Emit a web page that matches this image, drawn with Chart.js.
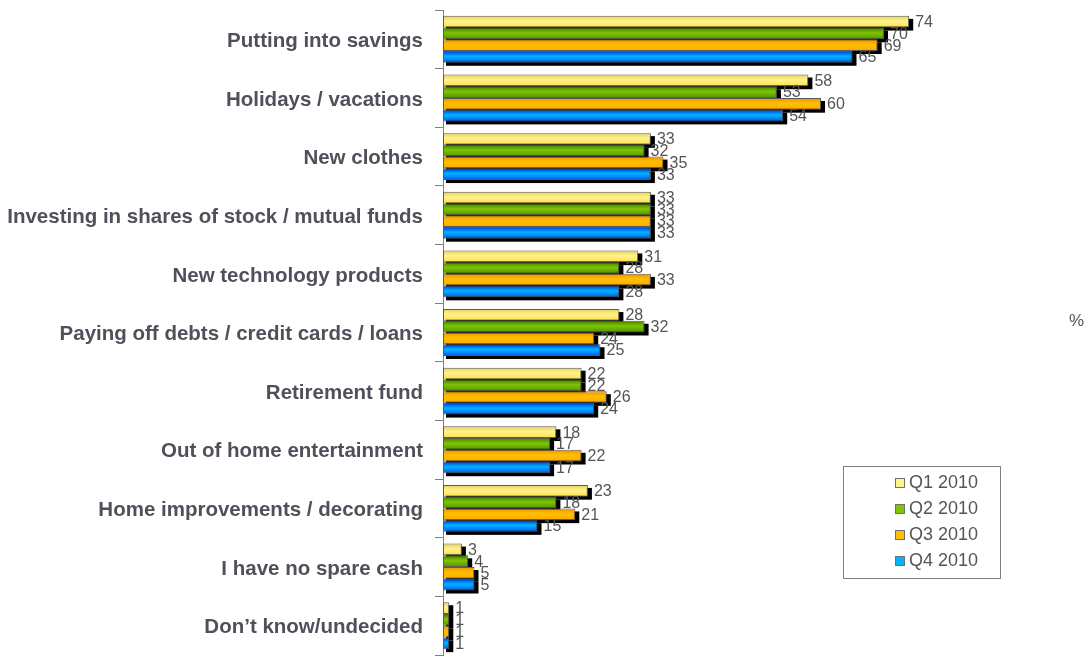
<!DOCTYPE html>
<html lang="en">
<head>
<meta charset="UTF-8">
<title>Spare cash spending</title>
<style>
  body { margin: 0; background: #fff; }
  #wrap { width: 1091px; height: 657px; position: relative; }
</style>
</head>
<body>
<div id="wrap"><canvas id="chart"></canvas></div>
<script src="https://cdn.jsdelivr.net/npm/chart.js"></script>
<script>
const categories = [
  "Putting into savings",
  "Holidays / vacations",
  "New clothes",
  "Investing in shares of stock / mutual funds",
  "New technology products",
  "Paying off debts / credit cards / loans",
  "Retirement fund",
  "Out of home entertainment",
  "Home improvements / decorating",
  "I have no spare cash",
  "Don\u2019t know/undecided"
];
const seriesNames = ["Q1 2010", "Q2 2010", "Q3 2010", "Q4 2010"];
const q1 = [74, 58, 33, 33, 31, 28, 22, 18, 23, 3, 1];
const q2 = [70, 53, 32, 33, 28, 32, 22, 17, 18, 4, 1];
const q3 = [69, 60, 35, 33, 33, 24, 26, 22, 21, 5, 1];
const q4 = [65, 54, 33, 33, 28, 25, 24, 17, 15, 5, 1];

// edge / centre / edge colours for the shaded bars
const shades = [
  ["#e8d050", "#fff390", "#ffe040"],
  ["#3f7f00", "#80c400", "#4f9400"],
  ["#f09000", "#ffc000", "#ffa800"],
  ["#0038d8", "#00b4ff", "#0058f0"]
];

const font = "'Liberation Sans', Arial, sans-serif";
const textGray = "#555555";

const barLook = {
  id: "barLook",
  beforeDatasetsDraw(chart) {
    const ctx = chart.ctx;
    // drop shadows first
    ctx.save();
    ctx.fillStyle = "#000";
    chart.data.datasets.forEach((ds, i) => {
      chart.getDatasetMeta(i).data.forEach(el => {
        const h = el.height;
        ctx.fillRect(el.base + 3, el.y - h / 2 + 3, el.x - el.base + 1, h);
      });
    });
    ctx.restore();
    // gradient fill for each bar
    chart.data.datasets.forEach((ds, i) => {
      const s = shades[i];
      chart.getDatasetMeta(i).data.forEach(el => {
        const top = el.y - el.height / 2;
        const g = ctx.createLinearGradient(0, top, 0, top + el.height);
        g.addColorStop(0, s[0]);
        g.addColorStop(0.45, s[1]);
        g.addColorStop(1, s[2]);
        el.options = Object.assign({}, el.options, { backgroundColor: g });
      });
    });
  },
  afterDatasetsDraw(chart) {
    const ctx = chart.ctx;
    ctx.save();
    ctx.font = "16px " + font;
    ctx.fillStyle = textGray;
    ctx.textBaseline = "middle";
    ctx.textAlign = "left";
    chart.data.datasets.forEach((ds, i) => {
      chart.getDatasetMeta(i).data.forEach((el, j) => {
        ctx.fillText(String(ds.data[j]), el.x + 6, el.y + 1);
      });
    });
    ctx.restore();
  },
  afterDraw(chart) {
    const ctx = chart.ctx;
    ctx.save();
    // legend box
    const bx = 843, by = 466, bw = 157, bh = 112;
    ctx.strokeStyle = "#808080";
    ctx.lineWidth = 1;
    ctx.strokeRect(bx + 0.5, by + 0.5, bw, bh);
    ctx.font = "18px " + font;
    ctx.textBaseline = "middle";
    ctx.textAlign = "left";
    seriesNames.forEach((name, i) => {
      const cy = by + 17 + i * 26;
      ctx.fillStyle = shades[i][1];
      ctx.fillRect(895, cy - 5, 10, 10);
      ctx.strokeStyle = "#707070";
      ctx.strokeRect(895.5, cy - 4.5, 9, 9);
      ctx.fillStyle = textGray;
      ctx.fillText(name, 909, cy);
    });
    ctx.font = "17px " + font;
    ctx.fillText("%", 1069, 321);
    ctx.restore();
  }
};

new Chart(document.getElementById("chart"), {
  type: "bar",
  data: {
    labels: categories,
    datasets: [q1, q2, q3, q4].map((vals, i) => ({
      label: seriesNames[i],
      data: vals,
      backgroundColor: shades[i][1],
      borderColor: "#5a5a5a",
      borderWidth: 1,
      borderSkipped: false,
      barPercentage: 1,
      categoryPercentage: 0.8
    }))
  },
  options: {
    indexAxis: "y",
    responsive: true,
    maintainAspectRatio: false,
    animation: false,
    layout: { padding: { top: 10, right: 144, bottom: 2, left: 0 } },
    plugins: {
      legend: { display: false },
      tooltip: { enabled: false }
    },
    scales: {
      x: { display: false, min: 0, max: 80 },
      y: {
        afterFit(scale) {
          scale.width = 443;
          scale.paddingTop = 0;
          scale.paddingBottom = 0;
        },
        grid: {
          drawOnChartArea: false,
          drawTicks: true,
          tickLength: 8,
          color: "#808080",
          offset: true
        },
        border: { color: "#808080", width: 1 },
        ticks: {
          padding: 12,
          labelOffset: 2,
          color: "#50505a",
          font: { family: font, size: 20.5, weight: "bold" }
        }
      }
    }
  },
  plugins: [barLook]
});
</script>
</body>
</html>
